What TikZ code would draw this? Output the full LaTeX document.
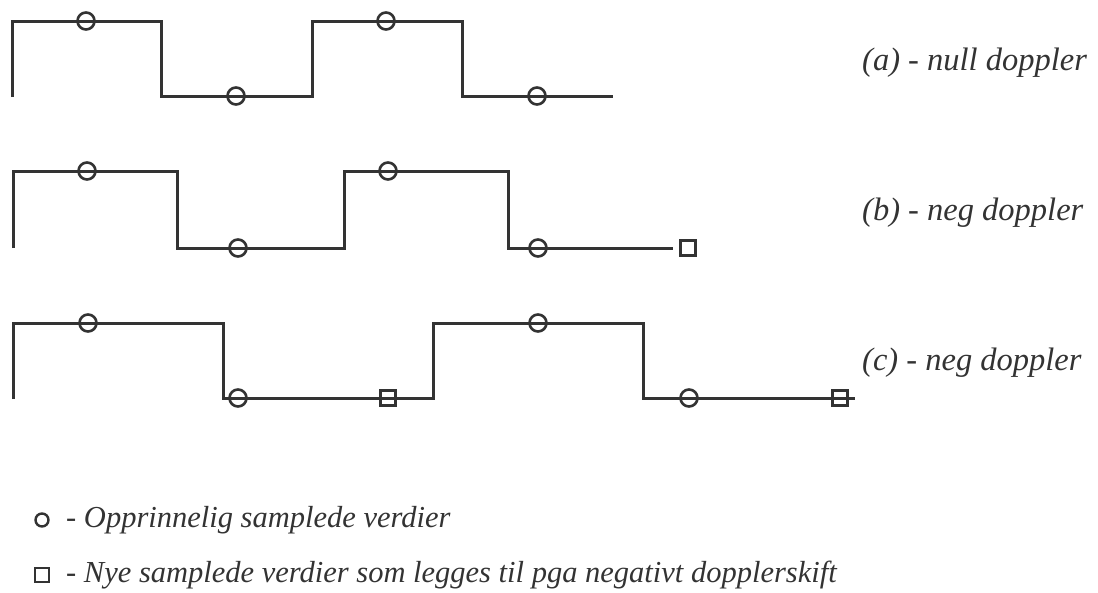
\documentclass[tikz,border=0pt]{standalone}
\usepackage{fontspec}
\setmainfont{Liberation Serif}
\definecolor{ink}{HTML}{333333}
\begin{document}
\begin{tikzpicture}[x=1pt,y=-1pt,
  wave/.style={line width=3pt, draw=ink},
  samp/.style={circle, draw=ink, line width=2.6pt, minimum size=17pt, inner sep=0pt},
  newsamp/.style={rectangle, draw=ink, line width=2.6pt, minimum size=15pt, inner sep=0pt},
  lab/.style={font=\itshape\fontsize{32.5}{38}\selectfont, anchor=west, inner sep=0pt, text=ink},
  leg/.style={font=\itshape\fontsize{30.5}{36}\selectfont, anchor=west, inner sep=0pt, text=ink},
]
\useasboundingbox (0,0) rectangle (1098,592);
% (a)
\draw[wave] (12,97) |- (161,21) |- (312,96) |- (462,21) |- (613,96);
\node[samp] (a1) at (86,21) {};
\node[samp] (a2) at (236,96) {};
\node[samp] (a3) at (386,21) {};
\node[samp] (a4) at (537,96) {};
\node[lab] (la) at (862,63) {(a) - null doppler};
% (b)
\draw[wave] (13,248) |- (177,171) |- (344,248) |- (508,171) |- (673,248);
\node[samp] (b1) at (87,171) {};
\node[samp] (b2) at (238,248) {};
\node[samp] (b3) at (388,171) {};
\node[samp] (b4) at (538,248) {};
\node[newsamp] (b5) at (688,248) {};
\node[lab] (lb) at (862,213) {(b) - neg doppler};
% (c)
\draw[wave] (13,399) |- (223,323) |- (433,398) |- (643,323) |- (855,398);
\node[samp] (c1) at (88,323) {};
\node[samp] (c2) at (238,398) {};
\node[newsamp] (c3) at (388,398) {};
\node[samp] (c4) at (538,323) {};
\node[samp] (c5) at (689,398) {};
\node[newsamp] (c6) at (840,398) {};
\node[lab] (lc) at (862,363) {(c) - neg doppler};
% legend
\node[samp, minimum size=13pt, line width=2.4pt] (k1) at (42,520) {};
\node[leg] (t1) at (66,520) {- Opprinnelig samplede verdier};
\node[newsamp, minimum size=14pt, line width=2.4pt] (k2) at (42,575) {};
\node[leg] (t2) at (66,575) {- Nye samplede verdier som legges til pga negativt dopplerskift};
\end{tikzpicture}
\end{document}
